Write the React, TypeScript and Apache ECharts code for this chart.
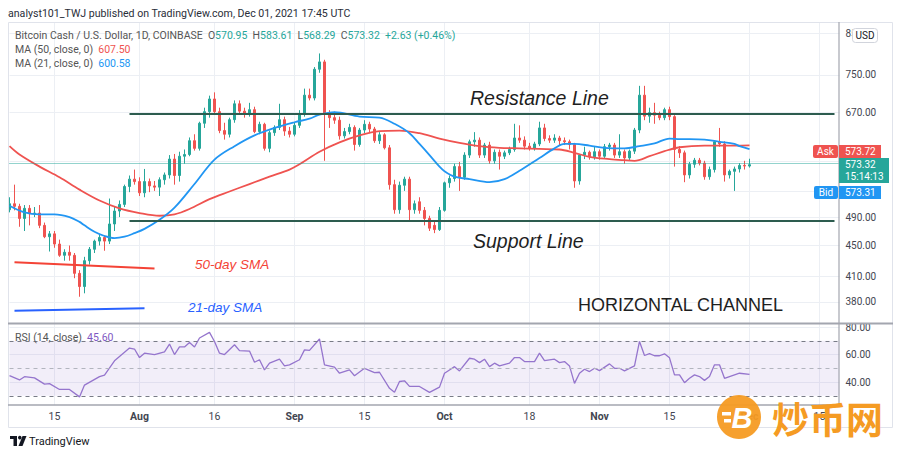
import React, { useEffect, useRef } from "react";
import * as echarts from "echarts";

// ---------- categories (daily, Jul 6 -> Dec 19, 2021) ----------
const firstDay = Date.UTC(2021, 6, 6);
const dayCount = 167;
const categories: string[] = [];
for (let i = 0; i < dayCount; i++) {
  const d = new Date(firstDay + i * 86400000);
  categories.push(
    String(d.getUTCMonth() + 1).padStart(2, "0") + "-" + String(d.getUTCDate()).padStart(2, "0")
  );
}

const tickLabels: Record<string, string> = {
  "07-15": "15", "08-01": "Aug", "08-16": "16", "09-01": "Sep", "09-15": "15",
  "10-01": "Oct", "10-18": "18", "11-01": "Nov", "11-15": "15", "12-01": "Dec", "12-15": "15",
};

const priceLabels = [380, 410, 450, 490, 670, 750, 850];
const priceGrid = [380, 410, 450, 490, 530, 580, 670, 750, 850];
const rsiLabels = [40, 60, 80];

// ---------- daily candles [open, high, low, close] ----------
const july = [
  [501, 520, 497, 510], [510, 540, 500, 506], [506, 510, 476, 488], [488, 508, 470, 503],
  [503, 508, 478, 495], [495, 505, 490, 496], [496, 508, 474, 478], [478, 482, 460, 462],
  [462, 470, 442, 466], [466, 470, 447, 452], [452, 458, 435, 437], [437, 445, 430, 441],
  [441, 450, 430, 437], [437, 440, 408, 414], [414, 418, 386, 398], [398, 435, 390, 430],
  [430, 448, 425, 445], [445, 458, 440, 456], [456, 465, 450, 461], [461, 464, 443, 456],
  [456, 518, 452, 480], [480, 505, 470, 499], [499, 515, 490, 509], [509, 540, 505, 537],
  [537, 555, 528, 549], [549, 565, 540, 545],
];
const august = [
  [545, 552, 522, 527], [527, 566, 520, 545], [545, 550, 528, 538], [538, 546, 530, 536],
  [536, 552, 522, 548], [548, 560, 540, 556], [556, 590, 550, 583], [583, 592, 540, 555],
  [555, 596, 545, 588], [588, 600, 575, 591], [591, 622, 588, 616], [616, 628, 598, 602],
  [602, 652, 598, 649], [649, 680, 640, 672], [672, 705, 660, 698], [698, 712, 668, 672],
  [672, 680, 630, 635], [635, 650, 618, 628], [628, 660, 622, 656], [656, 695, 650, 688],
  [688, 695, 668, 673], [673, 680, 660, 668], [668, 690, 662, 676], [676, 682, 630, 633],
  [633, 652, 628, 647], [647, 650, 598, 602], [602, 635, 595, 631], [631, 645, 625, 641],
  [641, 688, 636, 656], [656, 662, 625, 634], [634, 642, 622, 628],
];
const september = [
  [628, 650, 624, 645], [645, 675, 640, 668], [668, 720, 662, 706], [706, 720, 695, 700],
  [700, 768, 695, 763], [763, 800, 755, 780], [780, 785, 580, 667], [667, 675, 640, 660],
  [660, 672, 648, 655], [655, 662, 618, 625], [625, 640, 620, 633], [633, 648, 628, 641],
  [641, 645, 598, 609], [609, 640, 605, 636], [636, 655, 630, 647], [647, 652, 630, 638],
  [638, 642, 612, 616], [616, 632, 610, 627], [627, 630, 600, 603], [603, 608, 532, 540],
  [540, 548, 495, 501], [501, 545, 495, 539], [539, 553, 530, 549], [549, 553, 483, 501],
  [501, 515, 495, 510], [513, 520, 495, 500], [500, 505, 478, 488], [488, 492, 470, 474],
  [478, 484, 467, 472], [472, 505, 470, 500],
];
const october = [
  [500, 545, 498, 543], [543, 555, 535, 550], [550, 575, 545, 570], [570, 578, 530, 552],
  [552, 595, 548, 590], [590, 618, 585, 614], [614, 632, 605, 617], [617, 622, 585, 590],
  [590, 612, 585, 608], [608, 614, 575, 580], [580, 600, 575, 595], [595, 600, 565, 588],
  [588, 598, 583, 594], [594, 605, 590, 600], [600, 648, 596, 621], [621, 645, 612, 617],
  [617, 624, 600, 606], [606, 612, 598, 602], [602, 614, 598, 610], [610, 652, 606, 640],
  [640, 648, 615, 620], [620, 626, 612, 617], [617, 628, 612, 621], [621, 625, 608, 616],
  [616, 622, 608, 614], [614, 618, 600, 609], [609, 612, 535, 546], [546, 592, 540, 590],
  [590, 605, 583, 595], [595, 598, 582, 587], [587, 605, 582, 596],
];
const november = [
  [596, 600, 582, 588], [588, 610, 585, 605], [605, 612, 598, 608], [608, 612, 585, 590],
  [590, 628, 585, 596], [596, 600, 575, 585], [585, 600, 580, 597], [597, 640, 592, 636],
  [636, 726, 630, 706], [706, 726, 655, 663], [663, 680, 650, 670], [670, 690, 648, 665],
  [665, 672, 655, 660], [660, 680, 655, 676], [676, 682, 655, 662], [662, 665, 570, 600],
  [600, 606, 585, 594], [594, 598, 544, 556], [556, 578, 550, 574], [574, 585, 568, 581],
  [581, 585, 572, 576], [576, 580, 548, 553], [553, 570, 548, 565], [565, 616, 560, 614],
  [614, 640, 605, 610], [610, 615, 545, 556], [556, 565, 550, 562], [562, 570, 530, 566],
  [566, 576, 560, 572], [572, 580, 565, 570.95],
];
const december = [[570.95, 583.61, 568.29, 573.32]];

// ---------- indicator readings [date, value] ----------
const ma50Points: [string, number][] = [
  ["07-06", 606], ["07-08", 591], ["07-12", 570], ["07-16", 552], ["07-20", 532], ["07-24", 515],
  ["07-28", 503], ["08-01", 496], ["08-05", 492], ["08-08", 494], ["08-11", 502], ["08-15", 517],
  ["08-19", 529], ["08-23", 541], ["08-27", 553], ["08-31", 565], ["09-02", 574], ["09-06", 596],
  ["09-10", 613], ["09-14", 626], ["09-18", 634], ["09-22", 635], ["09-26", 630], ["09-30", 620],
  ["10-04", 612], ["10-08", 606], ["10-12", 603], ["10-16", 602], ["10-20", 601], ["10-24", 600],
  ["10-27", 594], ["10-30", 587], ["11-03", 583], ["11-06", 581], ["11-08", 580], ["11-11", 588],
  ["11-14", 597], ["11-17", 604], ["11-22", 607], ["11-28", 607], ["12-01", 607.5],
];
const ma21Points: [string, number][] = [
  ["07-06", 507], ["07-09", 497], ["07-12", 494], ["07-15", 494], ["07-18", 490], ["07-20", 483],
  ["07-21", 478], ["07-23", 469], ["07-25", 463], ["07-27", 460], ["07-29", 462], ["07-31", 467],
  ["08-02", 473], ["08-05", 486], ["08-08", 504], ["08-12", 541], ["08-16", 582], ["08-20", 606],
  ["08-24", 626], ["08-28", 640], ["09-01", 651], ["09-04", 658], ["09-06", 666], ["09-09", 671],
  ["09-14", 662], ["09-18", 660], ["09-21", 648], ["09-24", 630], ["09-26", 610], ["09-28", 590],
  ["09-30", 570], ["10-01", 562], ["10-03", 553], ["10-06", 549], ["10-10", 544], ["10-13", 549],
  ["10-16", 563], ["10-20", 585], ["10-23", 602], ["10-25", 610], ["10-27", 610], ["10-30", 607],
  ["11-02", 603], ["11-06", 602], ["11-09", 606], ["11-12", 611], ["11-15", 620], ["11-17", 619],
  ["11-22", 618], ["11-25", 614], ["11-28", 610], ["11-29", 606], ["12-01", 600.58],
];
const rsiPoints: [string, number][] = [
  ["07-06", 44.6], ["07-08", 41.5], ["07-09", 43.9], ["07-11", 43], ["07-13", 38.5], ["07-14", 38.8],
  ["07-16", 34.6], ["07-18", 34.6], ["07-20", 29.2], ["07-21", 37.8], ["07-24", 43.9], ["07-25", 45],
  ["07-27", 55.4], ["07-28", 58.6], ["07-30", 64.7], ["07-31", 64], ["08-01", 57.8], ["08-02", 61],
  ["08-04", 60], ["08-06", 62], ["08-07", 67.6], ["08-08", 60], ["08-09", 65.5], ["08-10", 65.5],
  ["08-11", 68.8], ["08-12", 65.5], ["08-13", 72], ["08-15", 76.1], ["08-16", 69.5], ["08-17", 61],
  ["08-18", 60], ["08-20", 67.1], ["08-21", 62.8], ["08-23", 62.5], ["08-24", 54.4], ["08-25", 56.2],
  ["08-26", 48.8], ["08-27", 53.7], ["08-29", 56.6], ["08-30", 51.7], ["08-31", 52.5], ["09-02", 56.2],
  ["09-03", 63.4], ["09-04", 63], ["09-06", 71.3], ["09-07", 52.5], ["09-09", 50.8], ["09-10", 46.4],
  ["09-12", 48.8], ["09-13", 44.6], ["09-15", 50], ["09-17", 46.9], ["09-18", 47.1], ["09-20", 35.4],
  ["09-21", 32.5], ["09-22", 40.4], ["09-23", 40.9], ["09-24", 36.8], ["09-26", 36.8], ["09-28", 32.5],
  ["09-30", 36.3], ["10-01", 46.4], ["10-02", 48.8], ["10-03", 51.2], ["10-04", 48.1], ["10-06", 57.3],
  ["10-07", 56.6], ["10-08", 54.1], ["10-09", 56.6], ["10-10", 51.2], ["10-11", 53.7], ["10-12", 51.7],
  ["10-14", 53.7], ["10-15", 57.8], ["10-16", 57.8], ["10-17", 54.9], ["10-19", 54.9], ["10-20", 61],
  ["10-21", 55.6], ["10-23", 56.6], ["10-24", 54.1], ["10-25", 54.9], ["10-26", 51.7], ["10-27", 39],
  ["10-28", 46.4], ["10-29", 49.3], ["10-30", 47.6], ["10-31", 50], ["11-01", 48.3], ["11-03", 53.2],
  ["11-04", 50], ["11-05", 50], ["11-06", 48.1], ["11-08", 51.7], ["11-09", 69.5], ["11-10", 59.3],
  ["11-11", 60.7], ["11-12", 59.1], ["11-13", 59.1], ["11-14", 60.5], ["11-15", 57.6], ["11-16", 45.2],
  ["11-17", 45.2], ["11-18", 39.5], ["11-19", 42.7], ["11-20", 45.2], ["11-21", 44], ["11-22", 41.2],
  ["11-23", 44], ["11-24", 52.5], ["11-25", 52.5], ["11-26", 42.7], ["11-27", 44], ["11-29", 46.4],
  ["12-01", 45.6],
];

// drawn levels
const resistanceLevel = 668;
const supportLevel = 485;
const channelStart = "07-30";
const channelEnd = "12-18";
const lastPrice = 573.32;
const sma50Note: [string, number][] = [["07-07", 428], ["08-04", 420]];
const sma21Note: [string, number][] = [["07-07", 370], ["08-02", 373]];

const GREEN = "#26a69a";
const RED = "#ef5350";
const BLUE = "#2196f3";
const PURPLE = "#9575cd";
const GRID = "#eceff4";
const AXIS_TEXT = "#434651";
const FONT = "Roboto";
const ORANGE = "#f59b23";

const L = (v: number) => Math.log10(v);

function buildOption(): any {
  const ohlc = [...july, ...august, ...september, ...october, ...november, ...december];
  const candleData = ohlc.map(([o, h, l, c]) => [L(o), L(c), L(l), L(h)]);
  const isTick = (_i: number, v: string) => v in tickLabels;

  const txt = (text: string, x: number, y: number, font: string, fill: string, align = "left", z = 100) => ({
    type: "text",
    z,
    style: { text, x, y, font, fill, textAlign: align, textVerticalAlign: "middle" },
  });
  const box = (x: number, y: number, w: number, h: number, fill: string, r = 0, z = 100) => ({
    type: "rect",
    z,
    shape: { x, y, width: w, height: h, r },
    style: { fill },
  });
  const ln = (x1: number, y1: number, x2: number, y2: number, stroke: string, w = 1) => ({
    type: "line",
    z: 99,
    shape: { x1, y1, x2, y2 },
    style: { stroke, lineWidth: w },
  });

  const richBase = { fontFamily: FONT, fontSize: 10.5 };
  const graphic: any[] = [
    txt("analyst101_TWJ published on TradingView.com, Dec 01, 2021 17:45 UTC", 8, 13, `10.6px ${FONT}`, "#2a2e39"),
    // panel frame
    { type: "rect", z: 98, shape: { x: 8.5, y: 22.5, width: 884, height: 405 }, style: { fill: "none", stroke: "#e0e3eb", lineWidth: 1 } },
    ln(8, 323.5, 893, 323.5, "#a3a6af", 2),
    ln(8, 405, 839, 405, "#a3a6af", 1.5),
    ln(839, 22, 839, 405, "#a3a6af", 1.2),
    // legend
    {
      type: "text", z: 100,
      style: {
        x: 15, y: 35, textVerticalAlign: "middle", font: `10.5px ${FONT}`, fill: "#555",
        text: "{t|Bitcoin Cash / U.S. Dollar, 1D, COINBASE}  {t|O}{g|570.95}  {t|H}{g|583.61}  {t|L}{g|568.29}  {t|C}{g|573.32}  {g|+2.63 (+0.46%)}",
        rich: { t: { ...richBase, fill: "#555" }, g: { ...richBase, fill: GREEN } },
      },
    },
    {
      type: "text", z: 100,
      style: {
        x: 15, y: 49, textVerticalAlign: "middle", font: `10.5px ${FONT}`, fill: "#555",
        text: "{t|MA (50, close, 0)}  {r|607.50}",
        rich: { t: { ...richBase, fill: "#555" }, r: { ...richBase, fill: RED } },
      },
    },
    {
      type: "text", z: 100,
      style: {
        x: 15, y: 63, textVerticalAlign: "middle", font: `10.5px ${FONT}`, fill: "#555",
        text: "{t|MA (21, close, 0)}  {b|600.58}",
        rich: { t: { ...richBase, fill: "#555" }, b: { ...richBase, fill: BLUE } },
      },
    },
    {
      type: "text", z: 100,
      style: {
        x: 15, y: 337, textVerticalAlign: "middle", font: `10.5px ${FONT}`, fill: "#555",
        text: "{t|RSI (14, close)}  {p|45.60}",
        rich: { t: { ...richBase, fill: "#555" }, p: { ...richBase, fill: "#7e57c2" } },
      },
    },
    // annotations
    txt("Resistance Line", 470, 98, 'italic 19.5px "Liberation Sans"', "#1e1e1e"),
    txt("Support Line", 473, 241, 'italic 19.5px "Liberation Sans"', "#1e1e1e"),
    txt("HORIZONTAL CHANNEL", 578, 305, '18px "Liberation Sans"', "#1e1e1e"),
    txt("50-day SMA", 195, 264, 'italic 13.5px "Liberation Sans"', "#f44336"),
    txt("21-day SMA", 188, 307, 'italic 13.5px "Liberation Sans"', "#2962ff"),
    // price scale badges
    box(852, 28, 26, 15, "#ffffff", 3),
    { type: "rect", z: 101, shape: { x: 852.5, y: 28.5, width: 25, height: 14, r: 3 }, style: { fill: "none", stroke: "#d1d4dc", lineWidth: 1 } },
    txt("USD", 865, 35.5, `10px ${FONT}`, "#131722", "center", 102),
    box(813, 145, 25, 13, RED, 2),
    txt("Ask", 825.5, 151.5, `10px ${FONT}`, "#ffffff", "center", 102),
    box(839, 145, 42, 13, RED),
    txt("573.72", 845, 151.5, `10px ${FONT}`, "#ffffff", "left", 102),
    box(839, 158, 50, 25, GREEN),
    txt("573.32", 845, 164.5, `10px ${FONT}`, "#ffffff", "left", 102),
    txt("15:14:13", 845, 176.5, `10px ${FONT}`, "#ffffff", "left", 102),
    box(814, 186, 24, 13, BLUE, 2),
    txt("Bid", 826, 192.5, `10px ${FONT}`, "#ffffff", "center", 102),
    box(839, 186, 42, 13, BLUE),
    txt("573.31", 845, 192.5, `10px ${FONT}`, "#ffffff", "left", 102),
    // TradingView logo
    box(10, 436, 7, 3, "#131722"),
    box(13.5, 436, 3.5, 10, "#131722"),
    { type: "circle", z: 100, shape: { cx: 19.8, cy: 437.6, r: 1.8 }, style: { fill: "#131722" } },
    { type: "polygon", z: 100, shape: { points: [[22.5, 436], [26.5, 436], [22.5, 446], [18.5, 446]] }, style: { fill: "#131722" } },
    txt("TradingView", 29, 441.5, `11px ${FONT}`, "#131722"),
    // watermark
    { type: "circle", z: 110, shape: { cx: 739, cy: 417, r: 22 }, style: { fill: ORANGE, opacity: 0.95 } },
    txt("B", 742, 418, `italic bold 29px "Liberation Sans"`, "#ffffff", "center", 112),
    box(722, 412, 9, 3.5, "#ffffff", 0, 112),
    box(724, 419, 7, 3.5, "#ffffff", 0, 112),
    txt("炒币网", 772, 418, `bold 37px "Noto Sans CJK SC"`, ORANGE, "left", 110),
  ];

  return {
    animation: false,
    backgroundColor: "#ffffff",
    grid: [
      { left: 9.5, width: 830, top: 22, height: 301 },
      { left: 9.5, width: 830, top: 324, height: 81 },
    ],
    xAxis: [
      {
        type: "category", gridIndex: 0, data: categories, boundaryGap: false,
        axisLine: { show: false }, axisTick: { show: false }, axisLabel: { show: false },
        splitLine: { show: true, interval: isTick, lineStyle: { color: GRID, width: 1 } },
      },
      {
        type: "category", gridIndex: 1, data: categories, boundaryGap: false,
        axisLine: { show: false }, axisTick: { show: false },
        axisLabel: {
          show: true, interval: isTick, margin: 6,
          formatter: (v: string) => {
            const t = tickLabels[v] || "";
            return /^[A-Z]/.test(t) ? `{m|${t}}` : `{d|${t}}`;
          },
          rich: {
            m: { fontFamily: FONT, fontSize: 10.5, fontWeight: "bold", color: AXIS_TEXT },
            d: { fontFamily: FONT, fontSize: 10.5, color: AXIS_TEXT },
          },
        },
        splitLine: { show: true, interval: isTick, lineStyle: { color: GRID, width: 1 } },
      },
    ],
    yAxis: [
      {
        type: "value", gridIndex: 0, position: "right", min: L(356.8), max: L(879),
        axisLine: { show: false },
        axisTick: { show: false, customValues: priceGrid.map(L) },
        axisLabel: {
          customValues: priceLabels.map(L), margin: 6,
          formatter: (v: number) => Math.pow(10, v).toFixed(2),
          color: AXIS_TEXT, fontFamily: FONT, fontSize: 10,
        },
        splitLine: { show: true, lineStyle: { color: GRID, width: 1 } },
      },
      {
        type: "value", gridIndex: 1, position: "right", min: 23.3, max: 82.2,
        axisLine: { show: false },
        axisTick: { show: false, customValues: rsiLabels },
        axisLabel: {
          customValues: rsiLabels, margin: 6,
          formatter: (v: number) => v.toFixed(2),
          color: AXIS_TEXT, fontFamily: FONT, fontSize: 10,
        },
        splitLine: { show: true, lineStyle: { color: GRID, width: 1 } },
      },
    ],
    series: [
      {
        type: "candlestick", xAxisIndex: 0, yAxisIndex: 0, data: candleData, barWidth: 3, clip: false,
        itemStyle: { color: GREEN, color0: RED, borderColor: GREEN, borderColor0: RED, borderWidth: 1 },
        markLine: {
          silent: true, symbol: ["none", "none"], label: { show: false }, z: 5,
          data: [
            [
              { coord: [channelStart, L(resistanceLevel)], lineStyle: { color: "#2d5c4f", width: 2, type: "solid" } },
              { coord: [channelEnd, L(resistanceLevel)] },
            ],
            [
              { coord: [channelStart, L(supportLevel)], lineStyle: { color: "#2d5c4f", width: 2, type: "solid" } },
              { coord: [channelEnd, L(supportLevel)] },
            ],
            [
              { coord: [sma50Note[0][0], L(sma50Note[0][1])], lineStyle: { color: "#f44336", width: 2, type: "solid" } },
              { coord: [sma50Note[1][0], L(sma50Note[1][1])] },
            ],
            [
              { coord: [sma21Note[0][0], L(sma21Note[0][1])], lineStyle: { color: "#2962ff", width: 2, type: "solid" } },
              { coord: [sma21Note[1][0], L(sma21Note[1][1])] },
            ],
            { yAxis: L(lastPrice), lineStyle: { color: GREEN, width: 1, type: "dotted" } },
          ],
        },
      },
      {
        type: "line", xAxisIndex: 0, yAxisIndex: 0, z: 3, showSymbol: false, smooth: 0.35,
        data: ma50Points.map(([d, v]) => [d, L(v)]),
        lineStyle: { color: RED, width: 1.8 },
      },
      {
        type: "line", xAxisIndex: 0, yAxisIndex: 0, z: 3, showSymbol: false, smooth: 0.35,
        data: ma21Points.map(([d, v]) => [d, L(v)]),
        lineStyle: { color: BLUE, width: 1.8 },
      },
      {
        type: "line", xAxisIndex: 1, yAxisIndex: 1, z: 3, showSymbol: false,
        data: rsiPoints,
        lineStyle: { color: PURPLE, width: 1.3 },
        markArea: {
          silent: true,
          itemStyle: { color: "rgba(126,87,194,0.1)" },
          data: [[{ yAxis: 30 }, { yAxis: 70 }]],
        },
        markLine: {
          silent: true, symbol: ["none", "none"], label: { show: false },
          data: [
            { yAxis: 70, lineStyle: { color: "#787b86", width: 1, type: [4, 4] } },
            { yAxis: 50, lineStyle: { color: "#b2b5be", width: 1, type: [4, 4] } },
            { yAxis: 30, lineStyle: { color: "#787b86", width: 1, type: [4, 4] } },
          ],
        },
      },
    ],
    graphic,
  };
}

export default function App() {
  const ref = useRef<HTMLDivElement>(null);
  useEffect(() => {
    if (!ref.current) return;
    const chart = echarts.init(ref.current, null, { renderer: "svg" });
    chart.setOption(buildOption());
    return () => chart.dispose();
  }, []);
  return (
    <div
      ref={ref}
      style={{ position: "absolute", left: 0, top: 0, width: 900, height: 457, background: "#ffffff" }}
    />
  );
}
